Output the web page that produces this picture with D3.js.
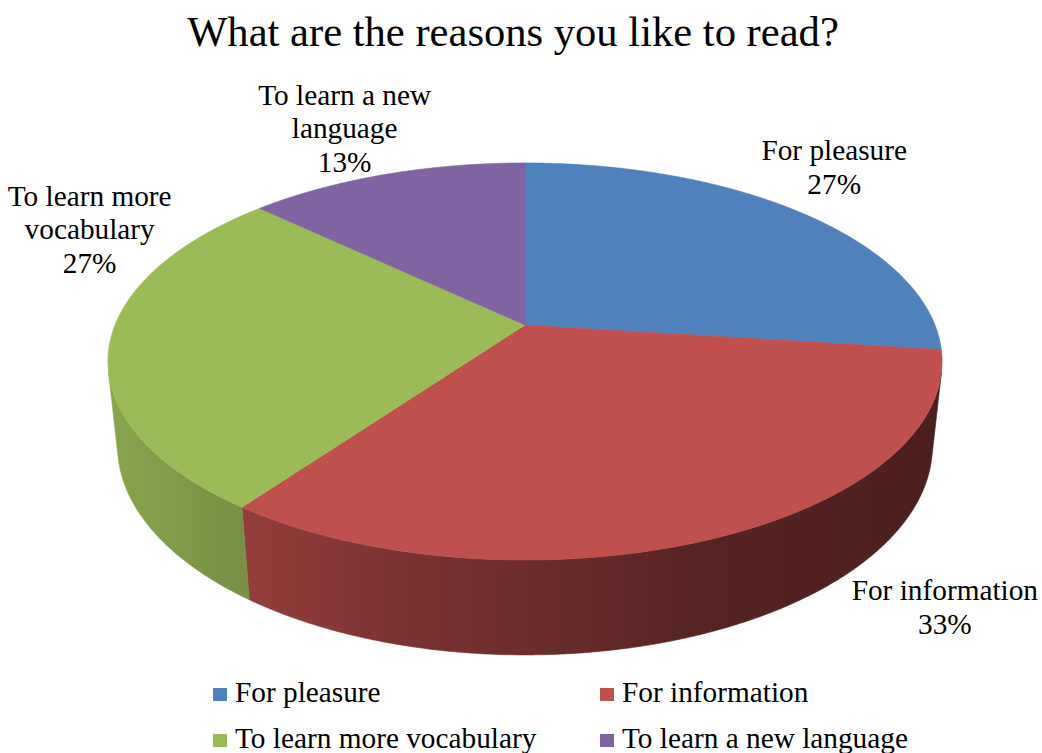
<!DOCTYPE html>
<html>
<head>
<meta charset="utf-8">
<script src="https://cdn.jsdelivr.net/npm/d3@7"></script>
<style>
  body { margin: 0; background: #fff; }
  svg { display: block; }
</style>
</head>
<body>
<svg id="chart" width="1042" height="753"></svg>
<script>
// Survey answers: share of respondents per reason (percent)
const categories = ["For pleasure", "For information", "To learn more vocabulary", "To learn a new language"];
const labelLines = [["For pleasure"], ["For information"], ["To learn more", "vocabulary"], ["To learn a new", "language"]];
const shares = [27, 33, 27, 13];
const colors = ["#4F81BD", "#C0504D", "#9BBB59", "#8064A2"];
const chartTitle = "What are the reasons you like to read?";

const serif = "'Liberation Serif', 'Times New Roman', Tinos, serif";
const textSize = 29.3;
const svg = d3.select("#chart");

// ---- 3D camera for the tilted pie ----
const cam = {
  cx: 525, cy: 325,      // screen position of the pie centre
  tilt: 27.9 * Math.PI / 180,
  dist: 4.81,            // camera distance in pie radii
  focal: 1972,           // projection scale
  depth: 0.2346          // slab thickness in pie radii
};
const sa = Math.sin(cam.tilt), ca = Math.cos(cam.tilt);

// theta: clockwise from 12 o'clock (far side), r: radius (1 = rim), y: height (0 = top face)
function project(theta, r, y) {
  const X = r * Math.sin(theta);
  const Z = -r * Math.cos(theta);           // +Z points toward the viewer
  const yc = y * ca - Z * sa;
  const d = cam.dist - y * sa - Z * ca;
  return [cam.cx + cam.focal * X / d, cam.cy - cam.focal * yc / d];
}

const pie = d3.pie().sort(null).value(d => d);
const arcs = pie(shares);

// Outer wall faces the camera where cos(theta) < -1 / (dist * cos(tilt))
const cutoff = Math.acos(-1 / (cam.dist * ca));
const wallMin = cutoff, wallMax = 2 * Math.PI - cutoff;

// ---- side shading: light from the left, darker toward the right ----
const defs = svg.append("defs");
const shadeStops = [[0, 0.88], [0.165, 0.77], [0.35, 0.64], [0.5, 0.56], [0.71, 0.45], [1, 0.39]];
colors.forEach((c, i) => {
  const g = defs.append("linearGradient")
    .attr("id", "wall" + i)
    .attr("gradientUnits", "userSpaceOnUse")
    .attr("x1", 107).attr("x2", 943).attr("y1", 0).attr("y2", 0);
  const base = d3.rgb(c);
  shadeStops.forEach(([o, f]) => {
    g.append("stop").attr("offset", o)
      .attr("stop-color", d3.rgb(base.r * f, base.g * f, base.b * f).formatHex());
  });
});

const line = d3.line();
const step = 0.25 * Math.PI / 180;

function sampleAngles(a0, a1) {
  const n = Math.max(2, Math.ceil((a1 - a0) / step));
  return d3.range(n + 1).map(i => a0 + (a1 - a0) * i / n);
}

// ---- walls ----
const wallG = svg.append("g");
arcs.forEach((a, i) => {
  const a0 = Math.max(a.startAngle, wallMin);
  const a1 = Math.min(a.endAngle, wallMax);
  if (a1 <= a0) return;
  const angs = sampleAngles(a0, a1);
  const topPts = angs.map(t => project(t, 1, 0));
  const botPts = angs.slice().reverse().map(t => project(t, 1, -cam.depth));
  wallG.append("path")
    .attr("d", line(topPts.concat(botPts)) + "Z")
    .attr("fill", `url(#wall${i})`)
    .attr("stroke", `url(#wall${i})`)
    .attr("stroke-width", 0.6);
});

// ---- top face ----
const topG = svg.append("g");
arcs.forEach((a, i) => {
  const pts = [project(0, 0, 0)].concat(sampleAngles(a.startAngle, a.endAngle).map(t => project(t, 1, 0)));
  topG.append("path")
    .attr("d", line(pts) + "Z")
    .attr("fill", colors[i])
    .attr("stroke", colors[i])
    .attr("stroke-width", 0.6)
    .attr("stroke-linejoin", "round");
});

// ---- title ----
svg.append("text")
  .attr("x", 513).attr("y", 46)
  .attr("text-anchor", "middle")
  .attr("font-family", serif)
  .attr("font-size", 42.6)
  .attr("fill", "#000")
  .text(chartTitle);

// ---- data labels: anchored at each slice's mid-angle on the rim, then moved outward ----
const labelNudge = [[35, -44], [224, 71], [-20, -113], [-41, -45]];
const lineGap = 33.5;
const fmtPct = d => d3.format(".0f")(d) + "%";
arcs.forEach((a, i) => {
  const mid = (a.startAngle + a.endAngle) / 2;
  const [px, py] = project(mid, 1, 0);
  const lines = labelLines[i].concat([fmtPct(shares[i])]);
  const cx = px + labelNudge[i][0];
  const cy = py + labelNudge[i][1];
  const firstBase = cy - (lines.length - 1) * lineGap / 2 + 9;
  const t = svg.append("text")
    .attr("text-anchor", "middle")
    .attr("font-family", serif)
    .attr("font-size", textSize)
    .attr("fill", "#000");
  lines.forEach((s, k) => {
    t.append("tspan").attr("x", cx).attr("y", firstBase + k * lineGap).text(s);
  });
});

// ---- legend ----
const legendCols = [213, 600];
const legendRows = [702, 748];
categories.forEach((c, i) => {
  const x = legendCols[i % 2];
  const y = legendRows[Math.floor(i / 2)];
  svg.append("rect")
    .attr("x", x).attr("y", y - 14)
    .attr("width", 14).attr("height", 13)
    .attr("fill", colors[i]);
  svg.append("text")
    .attr("x", x + 22).attr("y", y)
    .attr("font-family", serif)
    .attr("font-size", textSize)
    .attr("fill", "#000")
    .text(c);
});
</script>
</body>
</html>
